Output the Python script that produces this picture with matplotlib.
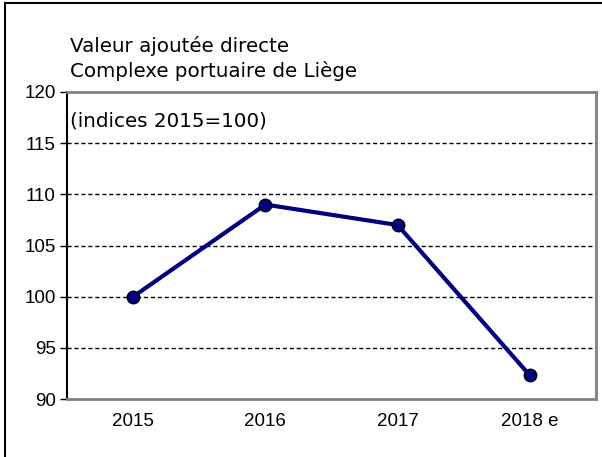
import matplotlib.pyplot as plt
import numpy as np

plt.rcParams['font.family'] = ['Liberation Sans', 'DejaVu Sans']

# data
years = ['2015', '2016', '2017', '2018 e']
values = [100, 109, 107, 92.3]
yticks = [90, 95, 100, 105, 110, 115, 120]

fig = plt.figure(figsize=(6.02, 4.57), dpi=100)
ax = fig.add_axes([67/602, 1 - 399/457, 529/602, 307/457])

x = np.arange(len(years))
ax.plot(x, values, color='#000080', lw=3, marker='o', ms=9,
        mfc='#000080', mec='black', mew=1, zorder=3, clip_on=False)

ax.set_xlim(-0.5, 3.5)
ax.set_ylim(90, 120)
ax.set_yticks(yticks)
ax.set_xticks(x)
ax.set_xticklabels(years)
ax.tick_params(axis='x', length=0, pad=10, labelsize=13.5)
ax.tick_params(axis='y', length=5, width=1, direction='out', pad=3, labelsize=13.5)

for v in yticks[1:-1]:
    ax.axhline(v, color='black', lw=1, ls=(0, (3, 2)), zorder=1)

for s in ['top', 'right', 'bottom']:
    ax.spines[s].set_color('#808080')
    ax.spines[s].set_linewidth(2)
ax.spines['left'].set_color('black')
ax.spines['left'].set_linewidth(1.5)

# the labels in the original are wider than Arial, DejaVu fits better
lbl = dict(family=['DejaVu Sans'], fontsize=14.3)
ax.text(0.006, 0.905, '(indices 2015=100)', transform=ax.transAxes,
        va='center', ha='left', **lbl)

fig.text(70/602, 1 - 46/457, 'Valeur ajoutée directe', va='center', **lbl)
fig.text(70/602, 1 - 71/457, 'Complexe portuaire de Liège', va='center', **lbl)

# outer frame (only top and left visible)
fig.add_artist(plt.Line2D([5/602, 1], [1 - 3/457, 1 - 3/457], color='black', lw=1.5))
fig.add_artist(plt.Line2D([5/602, 5/602], [0, 1 - 3/457], color='black', lw=1.5))

fig.savefig('out.png', dpi=100)
